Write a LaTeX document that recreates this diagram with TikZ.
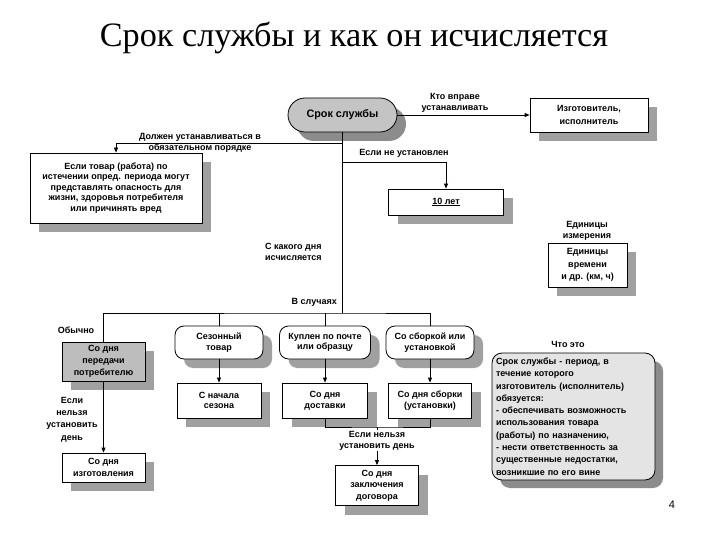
\documentclass[tikz,border=0pt]{standalone}
\usepackage{fontspec}
\setmainfont{Liberation Sans}
\newfontfamily\titlefont{Liberation Serif}
\usetikzlibrary{shadows,arrows.meta}
\definecolor{shgray}{HTML}{A0A0A0}
\definecolor{shdark}{HTML}{8C8C8C}
\definecolor{pillgray}{HTML}{C4C4C4}
\definecolor{boxgray}{HTML}{BDBDBD}
\definecolor{notegray}{HTML}{E4E4E4}
\begin{document}
\begin{tikzpicture}[x=1pt,y=-1pt,
  every node/.style={inner sep=0pt, align=center, font=\fontsize{9}{10.6}\selectfont\bfseries},
  conn/.style={line width=0.8pt},
  arr/.style={conn, -{Triangle[length=5pt,width=4pt]}},
  shadowed/.style={general shadow={fill=shgray, shadow xshift=9pt, shadow yshift=-9pt}},
  sqbox/.style={draw, line width=0.8pt, fill=white, shadowed},
  rbox/.style={sqbox, rounded corners=9pt},
  lbl/.style={font=\fontsize{9}{11.2}\selectfont\bfseries}
]
\useasboundingbox (0,0) rectangle (720,540);
\fill[white] (0,0) rectangle (720,540);

% title
\node[font=\titlefont\fontsize{34.2}{37}\selectfont] (title) at (354,38) {Срок службы и как он исчисляется};

% main node
\node[draw, line width=0.8pt, fill=pillgray, rounded corners=17pt, minimum width=109pt, minimum height=34pt,
  general shadow={fill=shdark, shadow xshift=9pt, shadow yshift=-9pt},
  font=\fontsize{10.8}{12}\selectfont\bfseries] (main) at (342.5,115) {Срок службы};

% manufacturer
\node[sqbox, minimum width=118pt, minimum height=34pt, font=\fontsize{9}{12.5}\selectfont\bfseries] (izg) at (589,115) {Изготовитель,\\исполнитель};
\draw[arr] (main.east) -- (izg.west);
\node[lbl] (whol) at (455,102.5) {Кто вправе\\устанавливать};

% box 1
\node[sqbox, minimum width=172pt, minimum height=70pt] (box1) at (116,188)
  {Если товар (работа) по\\истечении опред. периода могут\\представлять опасность для\\жизни, здоровья потребителя\\или причинять вред};

\coordinate (bar) at (342.5,313);
\draw[conn] (main.south) -- (bar);

\coordinate (j1) at (342.5,143);
\draw[arr] (j1) -| (box1.north);
\node[lbl] (mustl) at (200,143) {Должен устанавливаться в\\обязательном порядке};

% 10 years
\node[sqbox, minimum width=115pt, minimum height=26pt] (ten) at (446,202) {\underline{10 лет}};
\coordinate (j2) at (342.5,162);
\draw[arr] (j2) -| (ten.north);
\node[lbl] (notset) at (404,153.5) {Если не установлен};

% units
\node[sqbox, minimum width=79pt, minimum height=44pt, font=\fontsize{9}{12.3}\selectfont\bfseries] (units) at (587.5,265) {Единицы\\времени\\и др. (км, ч)};
\node[lbl] (unitsl) at (587,231) {Единицы\\измерения};

% labels on main vertical
\node[lbl, anchor=west, align=left] (fromday) at (265,252) {С какого дня\\исчисляется};
\node[lbl, anchor=east] (cases) at (337,302) {В случаях};

% left column
\node[draw, line width=0.8pt, fill=boxgray, minimum width=83pt, minimum height=39pt, shadowed,
  font=\fontsize{9}{12}\selectfont\bfseries] (gray) at (103.5,361.5) {Со дня\\передачи\\потребителю};
\node[sqbox, minimum width=83pt, minimum height=29pt, font=\fontsize{9}{12}\selectfont\bfseries] (izgot) at (103.5,467.5) {Со дня\\изготовления};
\draw[arr] (gray.south) -- (izgot.north);
\node[lbl, font=\fontsize{9}{12.3}\selectfont\bfseries] (cannot1) at (72,419.5) {Если\\нельзя\\установить\\день};
\node[lbl] (usual) at (76,330) {Обычно};

% cases row
\node[rbox, minimum width=88pt, minimum height=33pt] (sez) at (219,342.5) {Сезонный\\товар};
\node[rbox, minimum width=91pt, minimum height=33pt] (kup) at (325,342.5) {Куплен по почте\\или образцу};
\node[rbox, minimum width=88pt, minimum height=33pt] (sb) at (430,342.5) {Со сборкой или\\установкой};

\draw[conn] (gray.north) |- (bar) -| (sb.north);
\draw[conn] (sez.north) -- (sez.north |- bar);
\draw[conn] (kup.north) -- (kup.north |- bar);

\node[sqbox, minimum width=84pt, minimum height=35pt] (sn) at (219,400.5) {С начала\\сезона};
\node[sqbox, minimum width=85pt, minimum height=35pt] (dost) at (325,400.5) {Со дня\\доставки};
\node[sqbox, minimum width=83pt, minimum height=35pt] (sbd) at (430,400.5) {Со дня  сборки\\(установки)};
\draw[arr] (sez.south) -- (sn.north);
\draw[arr] (kup.south) -- (dost.north);
\draw[arr] (sb.south) -- (sbd.north);

\node[sqbox, minimum width=83pt, minimum height=40pt, font=\fontsize{9}{11.6}\selectfont\bfseries] (zak) at (377,485.5) {Со дня\\заключения\\договора};
\coordinate (lb) at (377,427);
\draw[conn] (dost.south) |- (lb) -| (sbd.south);
\draw[arr] (lb) -- (zak.north);
\node[lbl, fill=white, inner sep=1pt] (cannot2) at (377,440.5) {Если нельзя\\установить день};

% note
\node[lbl] (what) at (568,344) {Что это};
\node[draw, line width=0.8pt, fill=notegray, rounded corners=10pt, minimum width=163pt, minimum height=127pt,
  general shadow={fill=shdark, shadow xshift=8pt, shadow yshift=-8pt},
  align=left, text width=155pt, inner xsep=4pt, font=\fontsize{9}{12.3}\selectfont\bfseries] (note) at (573.5,416.5)
  {Срок службы - период, в\\течение которого\\изготовитель (исполнитель)\\обязуется:\\- обеспечивать возможность\\использования товара\\(работы) по назначению,\\- нести ответственность за\\существенные недостатки,\\возникшие по его вине};

\node[font=\fontsize{11}{12}\selectfont] (pnum) at (672,505) {4};
\end{tikzpicture}
\end{document}
